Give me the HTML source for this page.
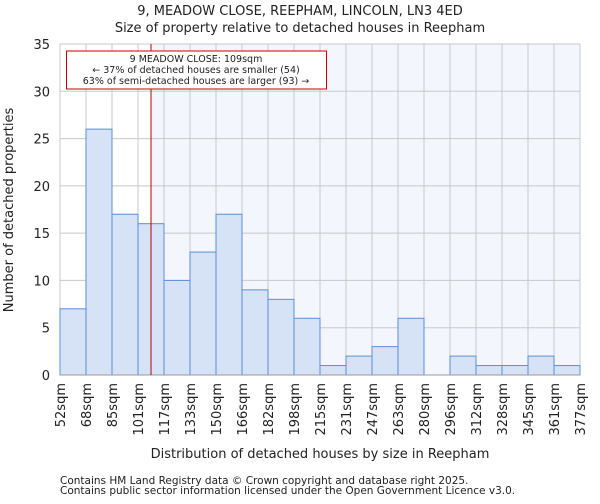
<!DOCTYPE html>
<html><head><meta charset="utf-8"><style>
body{margin:0;background:#fff;font-family:"DejaVu Sans","Liberation Sans",sans-serif;}
svg text{font-family:"DejaVu Sans","Liberation Sans",sans-serif;fill:#222;}
</style></head><body>
<svg id="chart" width="600" height="500" xmlns="http://www.w3.org/2000/svg">
<text x="300" y="15" text-anchor="middle" font-size="13">9, MEADOW CLOSE, REEPHAM, LINCOLN, LN3 4ED</text>
<text x="300" y="32" text-anchor="middle" font-size="13">Size of property relative to detached houses in Reepham</text>
<g id="plot"></g>
<text x="320" y="458" text-anchor="middle" font-size="13">Distribution of detached houses by size in Reepham</text>
<text transform="translate(13,210) rotate(-90)" text-anchor="middle" font-size="13">Number of detached properties</text>
<text x="60" y="484" font-size="10.5" fill="#444">Contains HM Land Registry data © Crown copyright and database right 2025.</text>
<text x="60" y="494" font-size="10.5" fill="#444">Contains public sector information licensed under the Open Government Licence v3.0.</text>
</svg>
<script>
const categories=["52sqm","68sqm","85sqm","101sqm","117sqm","133sqm","150sqm","166sqm","182sqm","198sqm","215sqm","231sqm","247sqm","263sqm","280sqm","296sqm","312sqm","328sqm","345sqm","361sqm","377sqm"];
const counts=[7,26,17,16,10,13,17,9,8,6,1,2,3,6,0,2,1,1,2,1];
const yTicks=[0,5,10,15,20,25,30,35];
const propertyBin=3.5;
const NS="http://www.w3.org/2000/svg";
const L=60,R=580,T=44,B=375,YMAX=35;
const nb=counts.length,bw=(R-L)/nb;
const x=i=>L+i*bw;
const y=v=>B-(v/YMAX)*(B-T);
const g=document.getElementById('plot');
function mk(t,a){const e=document.createElementNS(NS,t);for(const k in a)e.setAttribute(k,a[k]);g.appendChild(e);return e;}
const px=x(propertyBin);
let e=mk('rect',{x:px,y:T,width:R-px,height:B-T,fill:'#f3f6fd'});


for(let i=0;i<=nb;i++){e=mk('line',{x1:x(i),x2:x(i),y1:T,y2:B,stroke:'#c8c8c8','stroke-width':1});

}
yTicks.forEach(v=>{e=mk('line',{x1:L,x2:R,y1:y(v),y2:y(v),stroke:'#c8c8c8','stroke-width':1});


const t=mk('text',{x:L-10,y:y(v)+5,'text-anchor':'end','font-size':13});t.textContent=v;

});
counts.forEach((c,i)=>{if(c<=0)return;const r=mk('rect',{x:x(i),y:y(c),width:bw,height:B-y(c),fill:'#d6e2f5',stroke:'#5b8fd6','stroke-width':1});

});
categories.forEach((c,i)=>{const t=mk('text',{'text-anchor':'end','font-size':13,transform:`translate(${x(i)+5},383) rotate(-90)`});t.textContent=c;

});
e=mk('line',{x1:L,x2:R,y1:B,y2:B,stroke:'#999'});


e=mk('line',{x1:px,x2:px,y1:T,y2:B,stroke:'#b00','stroke-width':1});


e=mk('rect',{x:66.5,y:51,width:260,height:38,fill:'#fff',stroke:'#c00','stroke-width':1});


["9 MEADOW CLOSE: 109sqm","← 37% of detached houses are smaller (54)","63% of semi-detached houses are larger (93) →"].forEach((s,i)=>{const t=mk('text',{x:196,y:62+i*11,'text-anchor':'middle','font-size':9.5});t.textContent=s;

});
</script>
</body></html>
